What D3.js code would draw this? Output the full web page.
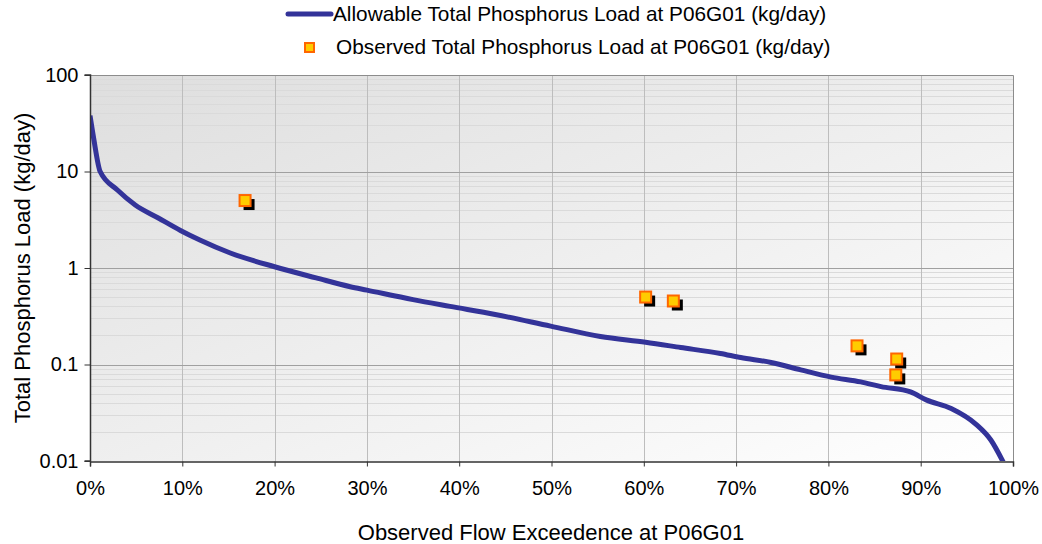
<!DOCTYPE html>
<html>
<head>
<meta charset="utf-8">
<script src="https://cdn.jsdelivr.net/npm/d3@7"></script>
<style>
  body { margin: 0; background: #fff; }
  text { font-family: "Liberation Sans", Arial, sans-serif; fill: #000; }
</style>
</head>
<body>
<div id="chart"></div>
<script>
// Allowable load curve (exceedence %, kg/day)
var curvePct = [0, 0.4, 1.1, 3.0, 4.9, 7.4, 9.8, 11.9, 15.2, 20, 24.5, 28.2, 30, 35, 39, 43.9, 49.9, 55.3, 60.2, 64, 68.3, 70.5, 73.8, 77, 80.3, 83.5, 85.7, 88.9, 90.6, 93.3, 96, 97.6, 99];
var curveLoad = [38, 22, 10, 6.4, 4.5, 3.3, 2.45, 1.95, 1.43, 1.03, 0.79, 0.64, 0.59, 0.47, 0.40, 0.33, 0.25, 0.195, 0.17, 0.15, 0.13, 0.118, 0.105, 0.088, 0.074, 0.066, 0.059, 0.052, 0.043, 0.035, 0.024, 0.0165, 0.0095];

// Observed loads
var obsPct = [16.8, 60.2, 63.2, 83.1, 87.4, 87.3];
var obsLoad = [5.0, 0.50, 0.455, 0.156, 0.114, 0.078];

var xTicks = [0, 10, 20, 30, 40, 50, 60, 70, 80, 90, 100];
var yTicks = [0.01, 0.1, 1, 10, 100];

var width = 1042, height = 544;
var plotLeft = 90, plotRight = 1013, plotTop = 75, plotBottom = 461;

var svg = d3.select("#chart").append("svg")
  .attr("width", width)
  .attr("height", height);

var xScale = d3.scaleLinear().domain([0, 100]).range([plotLeft, plotRight]);
var yScale = d3.scaleLog().domain([0.01, 100]).range([plotBottom, plotTop]);

// background gradient
var defs = svg.append("defs");
var grad = defs.append("linearGradient").attr("id", "bg")
  .attr("x1", "0%").attr("y1", "0%").attr("x2", "100%").attr("y2", "100%");
grad.append("stop").attr("offset", "0%").attr("stop-color", "#dedede");
grad.append("stop").attr("offset", "100%").attr("stop-color", "#ffffff");

defs.append("clipPath").attr("id", "plotClip")
  .append("rect")
  .attr("x", plotLeft).attr("y", plotTop)
  .attr("width", plotRight - plotLeft).attr("height", plotBottom - plotTop);

svg.append("rect")
  .attr("x", plotLeft).attr("y", plotTop)
  .attr("width", plotRight - plotLeft).attr("height", plotBottom - plotTop)
  .attr("fill", "url(#bg)");

// minor horizontal gridlines
var minorVals = [];
yTicks.slice(0, -1).forEach(function(d) {
  for (var k = 2; k <= 9; k++) minorVals.push(d * k);
});
svg.append("g").selectAll("line").data(minorVals).enter().append("line")
  .attr("x1", plotLeft).attr("x2", plotRight)
  .attr("y1", function(d) { return Math.round(yScale(d)) + 0.5; })
  .attr("y2", function(d) { return Math.round(yScale(d)) + 0.5; })
  .attr("stroke", "#dadada")
  .attr("stroke-width", 1);

// vertical gridlines
svg.append("g").selectAll("line").data(xTicks.slice(1, -1)).enter().append("line")
  .attr("x1", function(d) { return Math.round(xScale(d)) + 0.5; })
  .attr("x2", function(d) { return Math.round(xScale(d)) + 0.5; })
  .attr("y1", plotTop).attr("y2", plotBottom)
  .attr("stroke", "#bdbdbd");

// major horizontal gridlines
svg.append("g").selectAll("line").data(yTicks.slice(1, -1)).enter().append("line")
  .attr("x1", plotLeft).attr("x2", plotRight)
  .attr("y1", function(d) { return Math.round(yScale(d)) + 0.5; })
  .attr("y2", function(d) { return Math.round(yScale(d)) + 0.5; })
  .attr("stroke", "#a0a0a0");

// top and right border
svg.append("path")
  .attr("d", "M" + plotLeft + "," + (plotTop + 0.5) + "H" + (plotRight + 0.5) + "V" + plotBottom)
  .attr("fill", "none")
  .attr("stroke", "#8c8c8c");

// allowable curve
var line = d3.line()
  .x(function(d, i) { return xScale(curvePct[i]); })
  .y(function(d, i) { return yScale(curveLoad[i]); })
  .curve(d3.curveMonotoneX);

svg.append("path")
  .datum(curveLoad)
  .attr("clip-path", "url(#plotClip)")
  .attr("d", line)
  .attr("fill", "none")
  .attr("stroke", "#333399")
  .attr("stroke-width", 5)
  .attr("stroke-linejoin", "round");

// axes
var xAxis = d3.axisBottom(xScale).tickValues(xTicks)
  .tickFormat(function(d) { return d + "%"; }).tickSize(5).tickPadding(14);
var yAxis = d3.axisLeft(yScale).tickValues(yTicks)
  .tickFormat(function(d) { return d >= 1 ? d3.format("d")(d) : String(d); })
  .tickSize(6).tickPadding(6);

var gx = svg.append("g")
  .attr("transform", "translate(0," + (plotBottom + 0.5) + ")")
  .call(xAxis);
var gy = svg.append("g")
  .attr("transform", "translate(" + (plotLeft + 0.5) + ",0)")
  .call(yAxis);

[gx, gy].forEach(function(g) {
  g.select(".domain").attr("stroke", "#333").attr("stroke-width", 1.5);
  g.selectAll(".tick line").attr("stroke", "#333");
  g.selectAll(".tick text")
    .attr("font-size", 20)
    .attr("font-family", "Liberation Sans, Arial, sans-serif")
    .attr("fill", "#000");
});
gy.select(".domain").attr("d", "M-6," + plotTop + "H0V" + plotBottom + "H-6");

// observed markers with shadow
var obs = svg.append("g").selectAll("g").data(obsLoad).enter().append("g");
obs.append("rect")
  .attr("x", function(d, i) { return xScale(obsPct[i]) - 1.5; })
  .attr("y", function(d) { return yScale(d) - 1.5; })
  .attr("width", 11).attr("height", 11)
  .attr("fill", "#000");
obs.append("rect")
  .attr("x", function(d, i) { return xScale(obsPct[i]) - 5.5; })
  .attr("y", function(d) { return yScale(d) - 5.5; })
  .attr("width", 11).attr("height", 11)
  .attr("fill", "#ffcc00")
  .attr("stroke", "#ff6600")
  .attr("stroke-width", 2);

// axis titles
svg.append("text")
  .attr("x", 551)
  .attr("y", 540)
  .attr("text-anchor", "middle")
  .attr("font-size", 22)
  .text("Observed Flow Exceedence at P06G01");

svg.append("text")
  .attr("transform", "translate(30," + ((plotTop + plotBottom) / 2) + ")rotate(-90)")
  .attr("text-anchor", "middle")
  .attr("font-size", 22)
  .text("Total Phosphorus Load (kg/day)");

// legend
var legend = svg.append("g");
legend.append("line")
  .attr("x1", 288).attr("x2", 331)
  .attr("y1", 14).attr("y2", 14)
  .attr("stroke", "#333399").attr("stroke-width", 5)
  .attr("stroke-linecap", "round");
legend.append("text")
  .attr("x", 333).attr("y", 21)
  .attr("font-size", 20.8)
  .text("Allowable Total Phosphorus Load at P06G01 (kg/day)");
legend.append("rect")
  .attr("x", 305).attr("y", 43)
  .attr("width", 9).attr("height", 9)
  .attr("fill", "#ffcc00")
  .attr("stroke", "#ff6600")
  .attr("stroke-width", 2);
legend.append("text")
  .attr("x", 336).attr("y", 54)
  .attr("font-size", 20.8)
  .text("Observed Total Phosphorus Load at P06G01 (kg/day)");
</script>
</body>
</html>
